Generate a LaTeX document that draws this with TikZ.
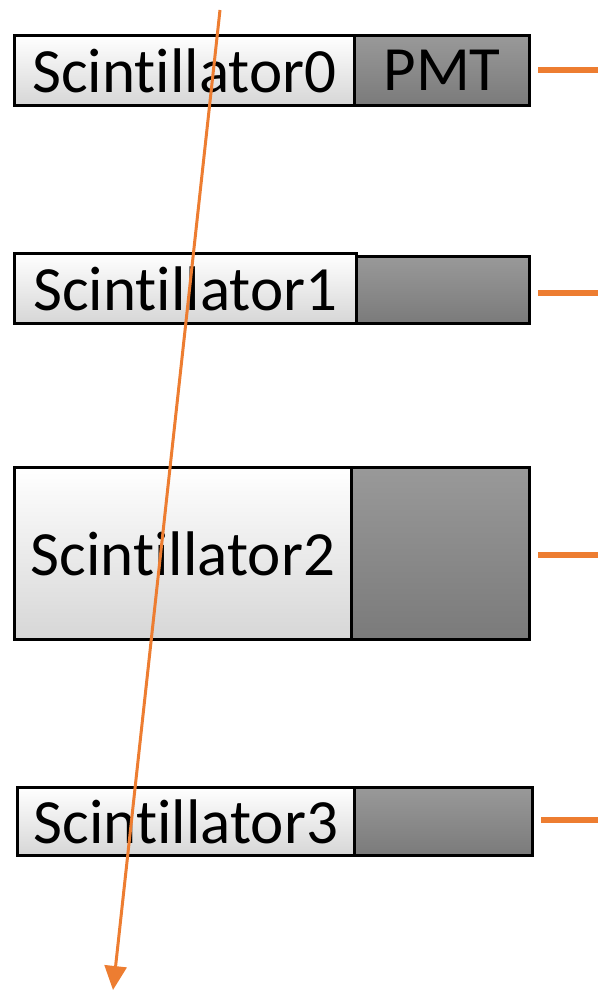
\documentclass[tikz,border=0pt]{standalone}
\usepackage{fontspec}
\setmainfont[Ligatures={NoCommon}]{Carlito}
\usetikzlibrary{arrows.meta}
\definecolor{ray}{HTML}{ED7D31}
\tikzset{
  scint/.style={draw=black, line width=3pt, top color=white, bottom color=black!16, inner sep=0pt, anchor=north west, font=\fontsize{63}{63}\selectfont},
  pmt/.style={draw=black, line width=3pt, top color=black!40, bottom color=black!52, inner sep=0pt, anchor=north west, font=\fontsize{63}{63}\selectfont},
  stub/.style={draw=ray, line width=6pt},
  trackline/.style={draw=ray, line width=3pt, -{Triangle[width=22pt,length=24pt]}}
}
\begin{document}
\begin{tikzpicture}[x=1pt,y=-1pt]
\useasboundingbox (0,0) rectangle (598,992);
% detector 0
\node[scint, minimum width=340pt, minimum height=70pt] (s0) at (13,34) {Scintillator0};
\node[pmt, minimum width=175pt, minimum height=70pt] (p0) at (353,34) {PMT};
% detector 1
\node[scint, minimum width=342pt, minimum height=70pt] (s1) at (13,252) {Scintillator1};
\node[pmt, minimum width=173pt, minimum height=67pt] (p1) at (355,255) {};
% detector 2
\node[scint, minimum width=337pt, minimum height=172pt] (s2) at (13,466) {Scintillator2};
\node[pmt, minimum width=178pt, minimum height=172pt] (p2) at (350,466) {};
% detector 3
\node[scint, minimum width=337pt, minimum height=68pt] (s3) at (16,786) {Scintillator3};
\node[pmt, minimum width=178pt, minimum height=68pt] (p3) at (353,786) {};
% signal outputs
\coordinate (e0) at (598,70);
\coordinate (e1) at (598,293);
\coordinate (e2) at (598,555);
\coordinate (e3) at (598,820);
\draw[stub] ([xshift=7pt]p0.east |- e0) -- (e0);
\draw[stub] ([xshift=7pt]p1.east |- e1) -- (e1);
\draw[stub] ([xshift=7pt]p2.east |- e2) -- (e2);
\draw[stub] ([xshift=7pt]p3.east |- e3) -- (e3);
% particle track
\coordinate (tin) at (220,10);
\coordinate (tout) at (113,990);
\draw[trackline] (tin) -- (tout);
\end{tikzpicture}
\end{document}
